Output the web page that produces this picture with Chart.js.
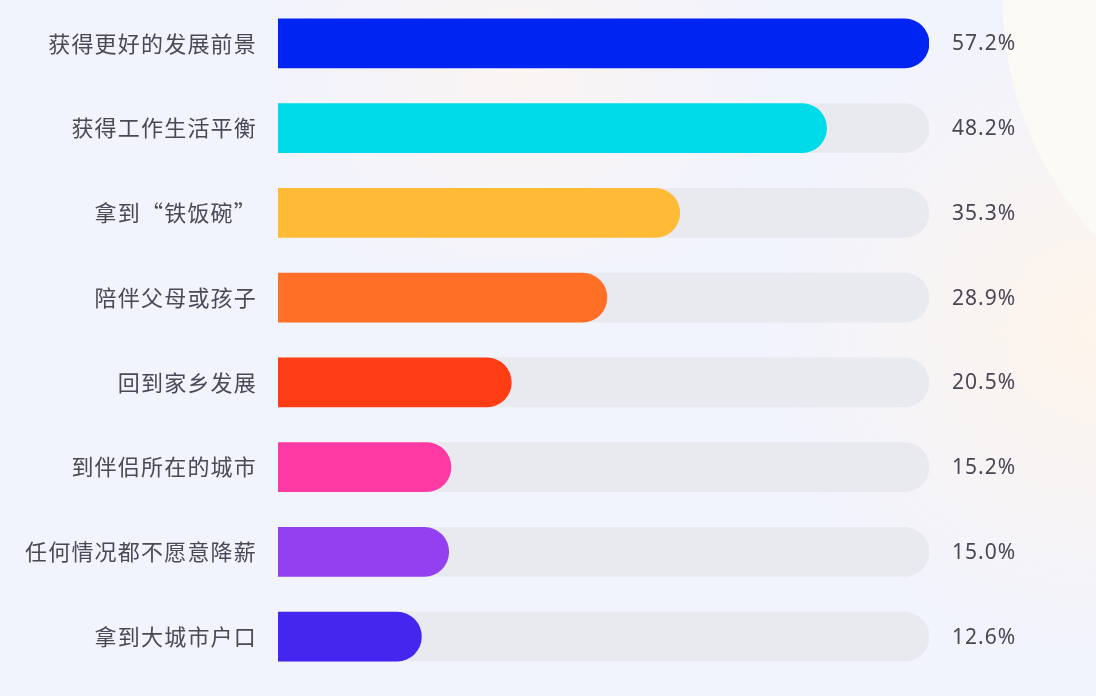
<!DOCTYPE html>
<html>
<head>
<meta charset="utf-8">
<script src="https://cdn.jsdelivr.net/npm/chart.js@4"></script>
<style>
    html, body { margin: 0; padding: 0; background: #f1f3fd; }
    #wrap { width: 1096px; height: 696px; }
</style>
</head>
<body>
<div id="wrap"><canvas id="bar-chart"></canvas></div>
<script>
var labels = ['获得更好的发展前景', '获得工作生活平衡', '拿到“铁饭碗”', '陪伴父母或孩子', '回到家乡发展', '到伴侣所在的城市', '任何情况都不愿意降薪', '拿到大城市户口'];
var values = [57.2, 48.2, 35.3, 28.9, 20.5, 15.2, 15.0, 12.6];
var colors = ['#0024f2', '#00dbe9', '#ffbb36', '#ff6f26', '#ff3d14', '#ff3aa4', '#9340f0', '#4426ee'];

var maxVal = Math.max.apply(null, values);
var track = values.map(function(){ return maxVal; });

// soft background shapes
var bgPlugin = {
    id: 'bg',
    beforeDraw: function(chart){
        var ctx = chart.ctx;
        ctx.save();
        ctx.fillStyle = '#f1f3fd';
        ctx.fillRect(0, 0, chart.width, chart.height);

        var g = ctx.createRadialGradient(1096, 330, 0, 1096, 330, 330);
        g.addColorStop(0, 'rgba(255,245,234,0.95)');
        g.addColorStop(1, 'rgba(255,245,234,0)');
        ctx.fillStyle = g;
        ctx.fillRect(700, 0, 396, 696);

        var g2 = ctx.createRadialGradient(520, 70, 0, 520, 70, 260);
        g2.addColorStop(0, 'rgba(255,246,238,0.7)');
        g2.addColorStop(1, 'rgba(255,246,238,0)');
        ctx.fillStyle = g2;
        ctx.fillRect(200, 0, 700, 260);

        ctx.beginPath();
        ctx.arc(1350, 0, 347, 0, Math.PI * 2);
        ctx.fillStyle = '#fcfaf5';
        ctx.fill();
        ctx.restore();
        // spaced out category labels
        if('letterSpacing' in ctx) ctx.letterSpacing = '1.2px';
    }
};

// percentage text to the right of the tracks
var valuePlugin = {
    id: 'valueText',
    afterDatasetsDraw: function(chart){
        var ctx = chart.ctx;
        var meta = chart.getDatasetMeta(0);
        ctx.save();
        ctx.font = '21px "Noto Sans", sans-serif';
        ctx.fillStyle = '#4a4656';
        ctx.textAlign = 'left';
        ctx.textBaseline = 'middle';
        if('letterSpacing' in ctx) ctx.letterSpacing = '1px';
        meta.data.forEach(function(bar, i){
            ctx.fillText(values[i].toFixed(1) + '%', chart.chartArea.right + 23, bar.y + 1);
        });
        ctx.restore();
    }
};

var myChart = new Chart(document.getElementById('bar-chart'), {
    type: 'bar',
    data: {
        labels: labels,
        datasets: [{
            data: values,
            backgroundColor: colors,
            borderRadius: 25,
            borderSkipped: 'start',
            barThickness: 49,
            grouped: false,
            order: 0
        }, {
            data: track,
            backgroundColor: '#e9eaf0',
            borderRadius: 25,
            borderSkipped: 'start',
            barThickness: 49,
            grouped: false,
            order: 1
        }]
    },
    options: {
        indexAxis: 'y',
        responsive: true,
        maintainAspectRatio: false,
        animation: false,
        layout: {
            padding: { top: 1, right: 167, bottom: 17, left: 0 }
        },
        scales: {
            x: {
                display: false,
                min: 0,
                max: maxVal
            },
            y: {
                grid: { display: false, drawTicks: false },
                border: { display: false },
                ticks: {
                    color: '#4b4858',
                    padding: 21,
                    font: { size: 22, family: '"Noto Sans CJK SC", sans-serif' }
                },
                afterFit: function(scale){
                    scale.width = 278;
                    scale.paddingTop = 0;
                    scale.paddingBottom = 0;
                }
            }
        },
        plugins: {
            legend: { display: false },
            tooltip: { enabled: false }
        }
    },
    plugins: [bgPlugin, valuePlugin]
});
</script>
</body>
</html>
